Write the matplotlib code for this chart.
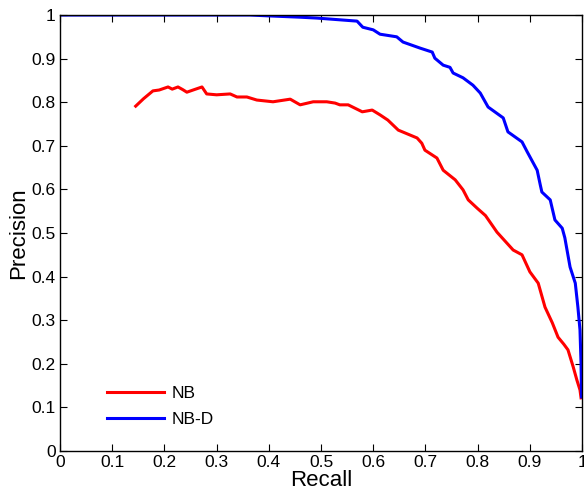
import matplotlib
matplotlib.use("Agg")
import matplotlib.pyplot as plt

plt.rcParams["font.family"] = ["Liberation Sans", "DejaVu Sans"]

# NB curve (recall, precision)
nb_recall = [0.145, 0.160, 0.178, 0.190, 0.207, 0.215, 0.226, 0.235, 0.243, 0.255,
             0.272, 0.281, 0.300, 0.326, 0.339, 0.358, 0.377, 0.408, 0.441, 0.460,
             0.485, 0.511, 0.527, 0.536, 0.552, 0.579, 0.598, 0.613, 0.628, 0.648,
             0.684, 0.693, 0.699, 0.722, 0.734, 0.757, 0.772, 0.782, 0.799, 0.815,
             0.837, 0.868, 0.885, 0.900, 0.916, 0.929, 0.943, 0.954, 0.965, 0.973,
             0.983, 0.990, 0.996, 0.998]
nb_precision = [0.791, 0.808, 0.826, 0.828, 0.835, 0.830, 0.835, 0.829, 0.823, 0.828,
                0.835, 0.819, 0.817, 0.819, 0.812, 0.812, 0.805, 0.801, 0.807, 0.794,
                0.801, 0.801, 0.798, 0.794, 0.794, 0.778, 0.782, 0.771, 0.759, 0.736,
                0.718, 0.706, 0.690, 0.672, 0.644, 0.622, 0.599, 0.576, 0.557, 0.540,
                0.502, 0.461, 0.450, 0.411, 0.385, 0.330, 0.294, 0.261, 0.245, 0.232,
                0.193, 0.163, 0.140, 0.122]

# NB-D curve (recall, precision)
nbd_recall = [0.0, 0.364, 0.400, 0.460, 0.492, 0.536, 0.569, 0.580, 0.600, 0.613,
              0.645, 0.657, 0.690, 0.713, 0.718, 0.734, 0.747, 0.753, 0.772, 0.791,
              0.805, 0.820, 0.849, 0.858, 0.885, 0.895, 0.914, 0.920, 0.923, 0.939,
              0.948, 0.962, 0.967, 0.977, 0.987, 0.992, 0.996, 0.998, 0.999]
nbd_precision = [1.000, 1.000, 0.998, 0.995, 0.993, 0.989, 0.986, 0.972, 0.966, 0.956,
                 0.950, 0.938, 0.924, 0.915, 0.901, 0.885, 0.880, 0.867, 0.856, 0.839,
                 0.821, 0.789, 0.764, 0.732, 0.709, 0.686, 0.644, 0.610, 0.594, 0.576,
                 0.530, 0.511, 0.489, 0.422, 0.385, 0.330, 0.278, 0.202, 0.124]

ticks = [0, 0.1, 0.2, 0.3, 0.4, 0.5, 0.6, 0.7, 0.8, 0.9, 1]
tick_labels = ["0", "0.1", "0.2", "0.3", "0.4", "0.5", "0.6", "0.7", "0.8", "0.9", "1"]

fig = plt.figure(figsize=(5.84, 4.94), dpi=100)
ax = fig.add_axes([0.1027, 0.087, 0.894, 0.8826])

ax.plot(nb_recall, nb_precision, color="#ff0000", lw=2.2, label="NB")
ax.plot(nbd_recall, nbd_precision, color="#0000ff", lw=2.2, label="NB-D")

ax.set_xlim(0, 1)
ax.set_ylim(0, 1)
ax.set_xticks(ticks)
ax.set_xticklabels(tick_labels)
ax.set_yticks(ticks)
ax.set_yticklabels(tick_labels)
ax.tick_params(direction="in", top=True, right=True, length=5, labelsize=12.5, pad=3)
for side in ax.spines.values():
    side.set_linewidth(1.0)
ax.set_xlabel("Recall", fontsize=16, labelpad=0)
ax.set_ylabel("Precision", fontsize=16, labelpad=2)

ax.legend(loc="lower left", bbox_to_anchor=(0.06, 0.02), frameon=False,
          fontsize=12.5, handlelength=3.3, handletextpad=0.4, labelspacing=0.6)

fig.savefig("out.png", dpi=100)
